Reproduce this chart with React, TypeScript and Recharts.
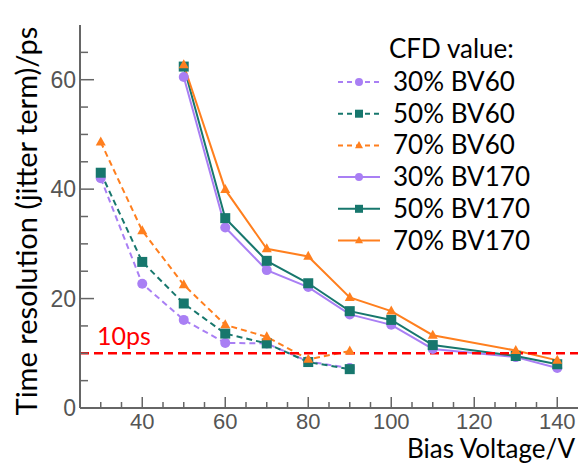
import React from 'react';
import { LineChart, Line, XAxis, YAxis, ReferenceLine, Legend } from 'recharts';

const bv60X = [30, 40, 50, 60, 70, 80, 90];
const bv170X = [50, 60, 70, 80, 90, 100, 110, 130, 140];

const cfd30bv60 = [42.0, 22.7, 16.1, 11.9, 11.8, 8.5, 7.3];
const cfd50bv60 = [43.0, 26.7, 19.1, 13.6, 11.8, 8.4, 7.1];
const cfd70bv60 = [48.6, 32.4, 22.5, 15.2, 13.0, 8.9, 10.4];
const cfd30bv170 = [60.5, 33.0, 25.2, 22.1, 17.1, 15.2, 10.8, 9.3, 7.3];
const cfd50bv170 = [62.4, 34.7, 26.9, 22.8, 17.7, 16.1, 11.5, 9.5, 8.0];
const cfd70bv170 = [62.7, 39.9, 29.1, 27.7, 20.2, 17.7, 13.3, 10.5, 8.7];

const xTicks = [30, 35, 40, 45, 50, 55, 60, 65, 70, 75, 80, 85, 90, 95, 100, 105, 110, 115, 120, 125, 130, 135, 140];
const xMajor = [40, 60, 80, 100, 120, 140];
const yTicks = [0, 5, 10, 15, 20, 25, 30, 35, 40, 45, 50, 55, 60, 65];
const yMajor = [0, 20, 40, 60];

const PURPLE = '#a97ff4';
const TEAL = '#17776d';
const ORANGE = '#ff7f1e';
const AXIS = '#666';
const CAL = 'Lato, "Open Sans", sans-serif';

type Shape = 'circle' | 'square' | 'triangle';

const series = [
  { name: '30% BV60', x: bv60X, y: cfd30bv60, color: PURPLE, shape: 'circle' as Shape, dashed: true },
  { name: '50% BV60', x: bv60X, y: cfd50bv60, color: TEAL, shape: 'square' as Shape, dashed: true },
  { name: '70% BV60', x: bv60X, y: cfd70bv60, color: ORANGE, shape: 'triangle' as Shape, dashed: true },
  { name: '30% BV170', x: bv170X, y: cfd30bv170, color: PURPLE, shape: 'circle' as Shape, dashed: false },
  { name: '50% BV170', x: bv170X, y: cfd50bv170, color: TEAL, shape: 'square' as Shape, dashed: false },
  { name: '70% BV170', x: bv170X, y: cfd70bv170, color: ORANGE, shape: 'triangle' as Shape, dashed: false },
];

function marker(shape: Shape, cx: number, cy: number, s: number, color: string, key?: string) {
  if (shape === 'circle') return <circle key={key} cx={cx} cy={cy} r={s / 2} fill={color} />;
  if (shape === 'square') return <rect key={key} x={cx - s / 2} y={cy - s / 2} width={s} height={s} fill={color} />;
  const h = s * 0.9;
  return (
    <polygon
      key={key}
      points={`${cx},${cy - h * 0.62} ${cx - s / 2},${cy + h * 0.38} ${cx + s / 2},${cy + h * 0.38}`}
      fill={color}
    />
  );
}

const XTick = (props: any) => {
  const { x, y, payload } = props;
  const major = xMajor.includes(payload.value);
  return (
    <g>
      <line x1={x} y1={y} x2={x} y2={y - (major ? 11 : 6)} stroke={AXIS} strokeWidth={1.5} />
      {major && (
        <text x={x} y={y + 21} textAnchor="middle" fontSize={22} fill="#555" fontFamily='"Liberation Sans", Arial, sans-serif'>
          {payload.value}
        </text>
      )}
    </g>
  );
};

const YTick = (props: any) => {
  const { x, y, payload } = props;
  const major = yMajor.includes(payload.value);
  return (
    <g>
      <line x1={x} y1={y} x2={x + (major ? 14 : 8)} y2={y} stroke={AXIS} strokeWidth={1.5} />
      {major && (
        <text x={x - 4} y={y + 8} textAnchor="end" fontSize={23} fill="#555" fontFamily='"Liberation Sans", Arial, sans-serif'>
          {payload.value}
        </text>
      )}
    </g>
  );
};

const LegendContent = () => (
  <svg width={579} height={465} style={{ position: 'absolute', left: 0, top: 0, overflow: 'visible', pointerEvents: 'none' }}>
    <text x={389} y={58} fontSize={26} fontFamily={CAL} fill="#000">CFD value:</text>
    {series.map((s, i) => {
      const base = 91 + i * 31.7;
      const cy = base - 9;
      return (
        <g key={s.name}>
          <line x1={338} y1={cy} x2={380} y2={cy} stroke={s.color} strokeWidth={2} strokeDasharray={s.dashed ? '5 4' : undefined} />
          {marker(s.shape, 359, cy, 8, s.color)}
          <text x={393} y={base} fontSize={26} fontFamily={CAL} fill="#000">{s.name}</text>
        </g>
      );
    })}
  </svg>
);

export default function App() {
  return (
    <div style={{ position: 'absolute', left: 0, top: 0, width: 579, height: 465, background: '#fff' }}>
      <LineChart width={579} height={465} margin={{ top: 25, right: 1, left: 0, bottom: 0 }}>
        <XAxis
          type="number"
          dataKey="x"
          domain={[25, 145]}
          ticks={xTicks}
          interval={0}
          height={57}
          tickSize={0}
          tickMargin={0}
          tickLine={false}
          tick={<XTick />}
          axisLine={{ stroke: AXIS, strokeWidth: 2 }}
          allowDuplicatedCategory={false}
        />
        <XAxis xAxisId="top" orientation="top" type="number" domain={[25, 145]} height={0} tick={false} tickLine={false} axisLine={{ stroke: AXIS, strokeWidth: 2 }} />
        <YAxis
          type="number"
          domain={[0, 70]}
          ticks={yTicks}
          interval={0}
          width={80}
          tickSize={0}
          tickMargin={0}
          tickLine={false}
          tick={<YTick />}
          axisLine={{ stroke: AXIS, strokeWidth: 2 }}
        />
        <YAxis yAxisId="right" orientation="right" type="number" domain={[0, 70]} width={0} tick={false} tickLine={false} axisLine={{ stroke: AXIS, strokeWidth: 2 }} />
        {series.map((s) => (
          <Line
            key={s.name}
            name={s.name}
            data={s.x.map((xv, i) => ({ x: xv, y: s.y[i] }))}
            dataKey="y"
            stroke={s.color}
            strokeWidth={2}
            strokeDasharray={s.dashed ? '6 4' : undefined}
            isAnimationActive={false}
            dot={(p: any) => marker(s.shape, p.cx, p.cy, 10, s.color, `${s.name}-${p.index}`)}
            activeDot={false}
          />
        ))}
        <ReferenceLine
          y={10}
          stroke="#ff0000"
          strokeWidth={2.5}
          strokeDasharray="9 5"
          label={(p: any) => (
            <text x={p.viewBox.x + 17} y={p.viewBox.y - 8} fontSize={25} fontFamily={CAL} fill="#ff0000">10ps</text>
          )}
        />
        <Legend
          layout="vertical"
          verticalAlign="top"
          align="left"
          content={<LegendContent />}
          wrapperStyle={{ position: 'absolute', left: 0, top: 0, width: 0, height: 0 }}
        />
      </LineChart>
      <svg width={579} height={465} style={{ position: 'absolute', left: 0, top: 0, pointerEvents: 'none' }}>
        <text x={575} y={458} textAnchor="end" fontSize={26} fontFamily={CAL} fill="#000">Bias Voltage/V</text>
        <text
          transform="translate(37,221) rotate(-90)"
          textAnchor="middle"
          fontSize={29}
          fontFamily={CAL}
          fill="#000"
        >
          Time resolution (jitter term)/ps
        </text>
      </svg>
    </div>
  );
}
